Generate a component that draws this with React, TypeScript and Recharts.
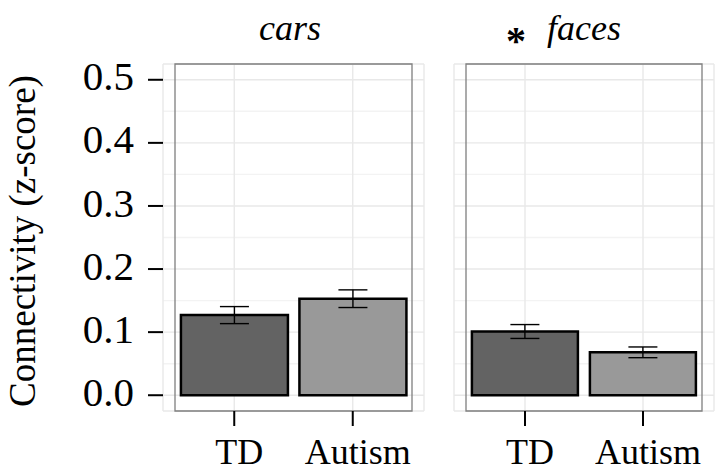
import React from 'react';
import { BarChart, Bar, XAxis, YAxis, CartesianGrid, ErrorBar, Cell, ReferenceArea } from 'recharts';

const categories = ['TD', 'Autism'];
const carsMeans = [0.127, 0.153];
const carsErr = [0.0135, 0.014];
const facesMeans = [0.101, 0.068];
const facesErr = [0.011, 0.0085];
const yTicks = [0, 0.1, 0.2, 0.3, 0.4, 0.5];
const yMinor = [0.05, 0.15, 0.25, 0.35, 0.45];
const yDomain = [-0.025, 0.525];
const fills = ['#636363', '#999999'];
const panelTitles = ['cars', 'faces'];

const FONT = '"Liberation Serif", "Times New Roman", serif';

const carsData = categories.map((c, i) => ({ group: c, value: carsMeans[i], err: carsErr[i] }));
const facesData = categories.map((c, i) => ({ group: c, value: facesMeans[i], err: facesErr[i] }));

const YTick = (props: any) => {
  const { x, y, payload } = props;
  return (
    <text x={x} y={y - 4} dy="0.355em" textAnchor="end" fontSize={41} fontFamily={FONT} fill="#000">
      {payload.value.toFixed(1)}
    </text>
  );
};

const XTick = (props: any) => {
  const { x, y, payload } = props;
  return (
    <text x={x + 5} y={y + 38} textAnchor="middle" fontSize={36} fontFamily={FONT} fill="#000">
      {payload.value}
    </text>
  );
};

const YTitle = () => (
  <text
    x={35}
    y={241}
    transform={`rotate(-90, 35, 241)`}
    textAnchor="middle"
    fontSize={37}
    fontFamily={FONT}
    fill="#000"
  >
    Connectivity (z-score)
  </text>
);

const Panel = ({ data, showY, margin }: { data: any[]; showY: boolean; margin: any }) => (
  <BarChart width={721} height={466} data={data} margin={margin} barCategoryGap="5%">
    <CartesianGrid stroke="#f3f3f3" strokeWidth={1.4} vertical={false} horizontalValues={yMinor} />
    <CartesianGrid stroke="#e8e8e8" strokeWidth={1.4} />
    <XAxis
      dataKey="group"
      height={55}
      padding={{ left: 12, right: 12 }}
      axisLine={false}
      tickLine={{ stroke: '#000', strokeWidth: 2 }}
      tickSize={15}
      tickMargin={0}
      tick={<XTick />}
      interval={0}
    />
    <YAxis
      hide={!showY}
      width={163}
      domain={yDomain}
      ticks={yTicks}
      allowDataOverflow
      axisLine={false}
      tickLine={{ stroke: '#000', strokeWidth: 2 }}
      tickSize={15}
      tickMargin={14}
      tick={<YTick />}
      label={showY ? <YTitle /> : undefined}
    />
    <Bar dataKey="value" stroke="#000" strokeWidth={2.5} isAnimationActive={false}>
      {data.map((d, i) => (
        <Cell key={d.group} fill={fills[i]} />
      ))}
      <ErrorBar dataKey="err" width={14.5} stroke="#000" strokeWidth={1.4} direction="y" />
    </Bar>
    <ReferenceArea y1={yDomain[0]} y2={yDomain[1]} fill="none" stroke="#7f7f7f" strokeWidth={1.3} ifOverflow="visible" />
  </BarChart>
);

export default function App() {
  return (
    <div style={{ position: 'absolute', left: 0, top: 0, width: 721, height: 466, background: '#fff' }}>
      <div style={{ position: 'absolute', left: 0, top: 0 }}>
        <Panel data={carsData} showY={true} margin={{ top: 64, right: 297, bottom: 0, left: 0 }} />
      </div>
      <div style={{ position: 'absolute', left: 0, top: 0 }}>
        <Panel data={facesData} showY={false} margin={{ top: 64, right: 7, bottom: 0, left: 454 }} />
      </div>
      <svg width={721} height={466} style={{ position: 'absolute', left: 0, top: 0, pointerEvents: 'none' }}>
        <text x={290} y={40} textAnchor="middle" fontSize={36} fontStyle="italic" fontFamily={FONT} fill="#000">
          {panelTitles[0]}
        </text>
        <text x={516} y={54} textAnchor="middle" fontSize={40} fontWeight="bold" fontFamily={FONT} fill="#000">
          *
        </text>
        <text x={584} y={40} textAnchor="middle" fontSize={36} fontStyle="italic" fontFamily={FONT} fill="#000">
          {panelTitles[1]}
        </text>
      </svg>
    </div>
  );
}
